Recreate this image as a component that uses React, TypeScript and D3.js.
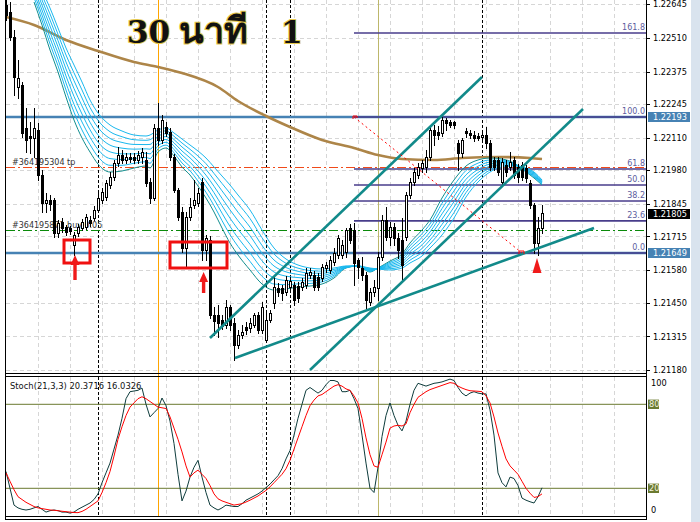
import React from "react";
import * as d3 from "d3";

// ---------- candle data (bar index 0..134) ----------
const opens = [
1.22641,1.22613,1.22513,1.22313,1.22321,1.22149,1.22117,1.22109,1.22141,1.21961,
1.21849,1.21861,1.21861,1.21729,1.21773,1.21753,1.21749,1.21681,1.21729,1.21749,
1.21753,1.21781,1.21789,1.21821,1.21861,1.21873,1.21921,1.21953,1.22009,1.22041,
1.22021,1.22033,1.22033,1.22021,1.22033,1.22021,1.21933,1.21869,1.22149,1.22101,
1.22153,1.22133,1.22033,1.21901,1.21813,1.21669,1.21793,1.21841,1.21849,1.21933,
1.21661,1.21701,1.21401,1.21401,1.21381,1.21361,1.21433,1.21369,1.21281,1.21321,
1.21353,1.21349,1.21361,1.21401,1.21341,1.21301,1.21381,1.21449,1.21509,1.21509,
1.21493,1.21513,1.21521,1.21517,1.21513,1.21521,1.21561,1.21561,1.21553,1.21549,
1.21589,1.21581,1.21613,1.21641,1.21641,1.21653,1.21749,1.21741,1.21621,1.21589,
1.21561,1.21453,1.21493,1.21509,1.21633,1.21781,1.21713,1.21753,1.21709,1.21701,
1.21713,1.21881,1.21933,1.21961,1.21989,1.21993,1.22033,1.22141,1.22133,1.22129,
1.22181,1.22173,1.22173,1.22089,1.22049,1.22137,1.22129,1.22121,1.22117,1.22113,
1.22121,1.22089,1.22021,1.22021,1.21933,1.22001,1.21993,1.22021,1.21993,1.22001,
1.21989,1.21929,1.21841,1.21689,1.21749];
const highs = [
1.22665,1.22653,1.22541,1.22421,1.22333,1.22229,1.22173,1.22229,1.22169,1.21981,
1.21889,1.21881,1.21869,1.21781,1.21789,1.21761,1.21757,1.21733,1.21765,1.21785,
1.21805,1.21797,1.21837,1.21901,1.21909,1.21941,1.21973,1.22021,1.22073,1.22061,
1.22049,1.22049,1.22049,1.22057,1.22069,1.22053,1.21949,1.22165,1.22249,1.22201,
1.22173,1.22149,1.22045,1.21909,1.21833,1.21813,1.21869,1.21941,1.21909,1.21949,
1.21721,1.21717,1.21433,1.21441,1.21401,1.21461,1.21441,1.21389,1.21341,1.21361,
1.21373,1.21389,1.21409,1.21413,1.21453,1.21413,1.21421,1.21561,1.21529,1.21521,
1.21557,1.21553,1.21533,1.21533,1.21549,1.21589,1.21589,1.21577,1.21569,1.21605,
1.21613,1.21637,1.21669,1.21721,1.21701,1.21749,1.21765,1.21769,1.21629,1.21633,
1.21573,1.21509,1.21541,1.21653,1.21801,1.21833,1.21773,1.21769,1.21729,1.21789,
1.21893,1.21949,1.21989,1.22009,1.22021,1.22061,1.22153,1.22161,1.22157,1.22193,
1.22189,1.22181,1.22177,1.22101,1.22109,1.22149,1.22141,1.22137,1.22129,1.22133,
1.22153,1.22101,1.22033,1.22033,1.22029,1.22021,1.22053,1.22033,1.22005,1.22013,
1.22001,1.21941,1.21849,1.21793,1.21841];
const lows = [
1.22581,1.22501,1.22281,1.22269,1.22113,1.22053,1.22049,1.22033,1.21941,1.21813,
1.21813,1.21821,1.21713,1.21713,1.21733,1.21721,1.21725,1.21641,1.21717,1.21741,
1.21745,1.21757,1.21781,1.21813,1.21849,1.21861,1.21909,1.21941,1.21997,1.22009,
1.22009,1.22013,1.22009,1.22009,1.22009,1.21917,1.21849,1.21861,1.22081,1.22089,
1.22117,1.22021,1.21893,1.21781,1.21653,1.21593,1.21781,1.21829,1.21837,1.21621,
1.21621,1.21389,1.21321,1.21313,1.21345,1.21349,1.21341,1.21221,1.21269,1.21309,
1.21325,1.21333,1.21353,1.21329,1.21329,1.21293,1.21373,1.21429,1.21477,1.21461,
1.21481,1.21501,1.21441,1.21453,1.21501,1.21509,1.21549,1.21501,1.21501,1.21537,
1.21573,1.21569,1.21601,1.21629,1.21629,1.21633,1.21689,1.21521,1.21549,1.21541,
1.21429,1.21441,1.21477,1.21461,1.21621,1.21701,1.21681,1.21681,1.21629,1.21533,
1.21701,1.21869,1.21921,1.21949,1.21973,1.21973,1.22021,1.22081,1.22105,1.22117,
1.22141,1.22153,1.22149,1.21981,1.22033,1.22113,1.22109,1.22097,1.22101,1.22105,
1.22069,1.21981,1.21981,1.21961,1.21921,1.21957,1.21981,1.21949,1.21933,1.21941,
1.21933,1.21829,1.21649,1.21641,1.21729];
const closes = [
1.22601,1.22513,1.22353,1.22349,1.22129,1.22101,1.22109,1.22149,1.21961,1.21849,
1.21861,1.21845,1.21729,1.21769,1.21749,1.21733,1.21737,1.21721,1.21753,1.21773,
1.21793,1.21769,1.21821,1.21869,1.21893,1.21929,1.21953,1.22009,1.22041,1.22021,
1.22033,1.22025,1.22021,1.22041,1.22053,1.21929,1.21869,1.22149,1.22101,1.22181,
1.22129,1.22033,1.21901,1.21793,1.21669,1.21793,1.21833,1.21861,1.21889,1.21661,
1.21709,1.21401,1.21377,1.21369,1.21357,1.21433,1.21361,1.21281,1.21321,1.21333,
1.21341,1.21369,1.21401,1.21341,1.21433,1.21381,1.21409,1.21513,1.21493,1.21489,
1.21541,1.21537,1.21461,1.21469,1.21533,1.21569,1.21573,1.21513,1.21513,1.21593,
1.21601,1.21621,1.21649,1.21709,1.21681,1.21741,1.21701,1.21609,1.21593,1.21561,
1.21461,1.21493,1.21513,1.21633,1.21781,1.21713,1.21753,1.21709,1.21661,1.21601,
1.21881,1.21933,1.21973,1.21993,1.22009,1.22033,1.22141,1.22121,1.22121,1.22181,
1.22169,1.22161,1.22161,1.22049,1.22101,1.22129,1.22121,1.22109,1.22109,1.22121,
1.22089,1.21993,1.21993,1.21973,1.22013,1.21973,1.22013,1.21961,1.21953,1.21953,
1.21949,1.21841,1.21689,1.21749,1.21809];

// ---------- stochastic (21,3,3) ----------
const stochK = [
32,20,8,6,5,4.5,5,6,7,5,3,4,4.5,4,3,3,2.3,3,5,6.5,
8,9.5,12,16,24,31,38,48,58,70,84,89,89.5,90,91.6,80,71,74,77,84.5,
79,68,52,30,11,18,28,35,40,28,17,8,6,4.5,6,8,7.5,7,7,9,
11.5,13,14.5,16,18,20.5,23,26,29,34,41,47,58,70,80,90,92,90,88,90,
94,97,97,96,89,89,90,84,77,58,38,20,17,35,57,72,81,72,65,61,
68,80,90,95,94,93,94,95,95.4,96,97,98,97,92,88,86,88,89,88,87.5,
87.4,76,58,31,24,21,28,27,22,13,11.5,10.4,9.5,14,20.3716];
const stochD = [
31,25,19,14,12,10,8.5,7,6,5.5,5,4.5,4.3,4,3.6,3.3,3,2.7,2.6,3.5,
5,7,9,11,17,24,32,43,55,64,72,78,81,84,85.4,84,82,80,78,77.5,
77,71,63,55,46,36,28,31,33,30,27,22,16,12.5,11,10,9,8,8.5,9,
10.2,11.5,13,14.5,16.5,18.5,21,24,27,30,34,40,48,56,64,72,79,83,86,87,
89,91,93,94,93,91,90,86,81,70,56,44,36,35,44,53,63,64.5,65,64.5,
66,74,80,85,87,89,90.5,91.5,92.5,93.5,94.5,95.5,95,93,91.6,90.5,89.7,89.5,89.3,89,
86,81,71,59.5,50,41,36,33,30,25,20,16.5,13.5,14,16.0326];

// ---------- EMA ribbon edges (fast / slow), sampled at bar indices ----------
const ribbonIdx = [7,9,11,13,15,17,19,21,23,26,29,32,35,36,38,40,42,44,46,48,50,52,54,56,58,61,64,67,70,73,76,79,82,85,88,91,93,96,99,101,104,106,109,112,115,118,121,124,127,130,132,134];
const ribbonFast = [1.22653,1.22561,1.22461,1.22373,1.22273,1.22181,1.22109,1.22053,1.22005,1.21973,1.21977,1.21989,1.21997,1.21989,1.22053,1.22069,1.22037,1.21993,1.21961,1.21917,1.21869,1.21813,1.21749,1.21689,1.21641,1.21581,1.21525,1.21501,1.21505,1.21513,1.21517,1.21525,1.21549,1.21589,1.21597,1.21573,1.21589,1.21617,1.21645,1.21689,1.21741,1.21781,1.21869,1.21941,1.21997,1.22021,1.22029,1.22025,1.22009,1.21973,1.21949,1.21921];
const ribbonSlow = [1.22781,1.22701,1.22629,1.22549,1.22469,1.22401,1.22333,1.22261,1.22209,1.22161,1.22137,1.22121,1.22117,1.22121,1.22141,1.22149,1.22129,1.22105,1.22081,1.22057,1.22029,1.21993,1.21957,1.21921,1.21881,1.21821,1.21741,1.21669,1.21625,1.21601,1.21589,1.21585,1.21589,1.21597,1.21597,1.21589,1.21585,1.21581,1.21589,1.21609,1.21637,1.21669,1.21721,1.21789,1.21873,1.21933,1.21973,1.21993,1.21997,1.21989,1.21973,1.21941];
const ribbonCount = 8;

// ---------- slow moving average ----------
const maIdx = [0,7,15,23,32,38,44,53,58,65,71,79,87,93,99,107,114,123,131,134];
const maVals = [1.22593,1.22561,1.22501,1.22457,1.22413,1.22393,1.22369,1.22313,1.22257,1.22197,1.22153,1.22101,1.22069,1.22041,1.22025,1.22021,1.22029,1.22033,1.22029,1.22025];

// ---------- axis / levels ----------
const priceTicks = [1.22645,1.2251,1.22375,1.22245,1.2211,1.2198,1.21845,1.21715,1.2158,1.2145,1.21315,1.2118];
const priceTickLabels = ["1.22645","1.22510","1.22375","1.22245","1.22110","1.21980","1.21845","1.21715","1.21580","1.21450","1.21315","1.21180"];
const blueLevels = [1.22193, 1.21649];
const markerPrices = [1.22193, 1.21805, 1.21649];
const markerLabels = ["1.22193", "1.21805", "1.21649"];
const fibLevels = [0, 23.6, 38.2, 50, 61.8, 100, 161.8];
const fibLabels = ["0.0", "23.6", "38.2", "50.0", "61.8", "100.0", "161.8"];
const fibAnchorBars = [87, 129];
const fibAnchorPrices = [1.22193, 1.21649];
const tpLevel = 1.21993;
const tpLabel = "#364195304 tp";
const buyLevel = 1.21741;
const buyLabel = "#364195871 buy 0.05";
const dashedBars = [23, 65, 71, 119];
const orangeBar = 38;
const khakiBar = 93;
const trendFrom = [[51, 1.21309], [76, 1.21181], [57.25, 1.21229]];
const trendTo = [[119, 1.22353], [144.25, 1.22225], [147, 1.21749]];
const boxFrom = [[14.5, 1.21701], [41, 1.21693]];
const boxTo = [[21, 1.21609], [55.25, 1.21589]];
const arrowBars = [17.25, 49.4];
const arrowTips = [1.21641, 1.21573];
const arrowTails = [1.21541, 1.21489];
const triBar = 132.75;
const triTop = 1.21629;
const triBottom = 1.21569;
const stochLevels = [20, 80];
const stochTicks = [100, 80, 20, 0];
const stochTitle = "Stoch(21,3,3) 20.3716 16.0326";
const titleNum30 = "30";
const titleThai = "นาที";
const titleNum = "1";

const FONT = "'DejaVu Sans', Verdana, sans-serif";

export default function App() {
  const L = 6, R = 646;
  const x = d3.scaleLinear().domain([0, 160]).range([L, R]);
  const y = d3.scaleLinear().domain([1.21169, 1.22661]).range([373, 0]);
  const ys = d3.scaleLinear().domain([0, 100]).range([516.3, 376.3]);
  const px = (v: number) => Math.round(v) + 0.5;

  const gridBars = d3.range(8, 160, 8);
  const line = d3.line<[number, number]>().curve(d3.curveMonotoneX);
  const lineLin = d3.line<[number, number]>();

  const fibRange = fibAnchorPrices[0] - fibAnchorPrices[1];

  const ribbonLines = d3.range(ribbonCount).map((k) => {
    const t = k / (ribbonCount - 1);
    const pts = ribbonIdx.map((bi, j) => [x(bi), y(ribbonFast[j] + t * (ribbonSlow[j] - ribbonFast[j]))] as [number, number]);
    return line(pts) as string;
  });

  const maPath = line(maIdx.map((bi, j) => [x(bi), y(maVals[j])] as [number, number])) as string;
  const kPath = lineLin(stochK.map((v, i) => [x(i), ys(v)] as [number, number])) as string;
  const dPath = lineLin(stochD.map((v, i) => [x(i), ys(v)] as [number, number])) as string;

  return (
    <svg width={700} height={522} style={{ position: "fixed", left: 0, top: 0, display: "block", background: "#fff" }}>
      <defs>
        <clipPath id="mainClip"><rect x={L} y={0} width={R - L} height={373} /></clipPath>
        <clipPath id="stochClip"><rect x={L} y={376.5} width={R - L} height={140} /></clipPath>
      </defs>
      <rect x={0} y={0} width={700} height={522} fill="#fff" />
      <rect x={691} y={0} width={9} height={522} fill="#d9e3ee" />

      {/* grid */}
      <g stroke="#d6d6d6" strokeDasharray="4,3" strokeWidth={1}>
        {gridBars.map((b) => (
          <g key={"gv" + b}>
            <line x1={px(x(b))} x2={px(x(b))} y1={0} y2={373} />
            <line x1={px(x(b))} x2={px(x(b))} y1={377} y2={516} />
          </g>
        ))}
        {priceTicks.map((p) => (
          <line key={"gh" + p} x1={L} x2={R} y1={px(y(p))} y2={px(y(p))} />
        ))}
      </g>

      {/* vertical event lines */}
      <g>
        {dashedBars.map((b) => (
          <g key={"vd" + b} stroke="#000" strokeDasharray="3,2">
            <line x1={px(x(b))} x2={px(x(b))} y1={0} y2={373} />
            <line x1={px(x(b))} x2={px(x(b))} y1={377} y2={516} />
          </g>
        ))}
        <line x1={px(x(orangeBar))} x2={px(x(orangeBar))} y1={0} y2={516} stroke="#ffa500" />
        <line x1={px(x(khakiBar))} x2={px(x(khakiBar))} y1={0} y2={516} stroke="#bdb76b" />
      </g>

      <g clipPath="url(#mainClip)">
        {/* TP and buy lines with labels */}
        <line x1={L} x2={R} y1={px(y(tpLevel))} y2={px(y(tpLevel))} stroke="#f04a1a" strokeDasharray="9,3,2,3" />
        <line x1={L} x2={R} y1={px(y(buyLevel))} y2={px(y(buyLevel))} stroke="#0a8a0a" strokeDasharray="9,3,2,3" />
        <text x={12} y={y(tpLevel) - 2} fontFamily={FONT} fontSize={8} fill="#333">{tpLabel}</text>
        <text x={12} y={y(buyLevel) - 2} fontFamily={FONT} fontSize={8} fill="#333">{buyLabel}</text>

        {/* horizontal blue levels */}
        {blueLevels.map((p) => (
          <line key={"bl" + p} x1={L} x2={R} y1={y(p)} y2={y(p)} stroke="#4682b4" strokeWidth={2.6} />
        ))}

        {/* fibonacci */}
        {fibLevels.map((lv, k) => {
          const yy = y(fibAnchorPrices[1] + (lv / 100) * fibRange);
          return (
            <g key={"fib" + lv}>
              <line x1={x(fibAnchorBars[0])} x2={R} y1={yy} y2={yy} stroke="#483d8b" strokeWidth={1.6} />
              <text x={R - 1} y={yy - 3} textAnchor="end" fontFamily={FONT} fontSize={8} fill="#5d5d9e">{fibLabels[k]}</text>
            </g>
          );
        })}

        {/* moving average */}
        <path d={maPath} fill="none" stroke="#ad8548" strokeWidth={2.6} />

        {/* EMA ribbon */}
        {ribbonLines.map((d, k) => (
          <path key={"rb" + k} d={d} fill="none" stroke={k === 0 ? "#128e8e" : "#1ab8ee"} strokeWidth={1} />
        ))}

        {/* candles */}
        {opens.map((o, i) => {
          const c = closes[i];
          const cx = Math.round(x(i));
          const bull = c >= o;
          const yt = Math.round(y(Math.max(o, c)));
          const yb = Math.round(y(Math.min(o, c)));
          const yh = Math.round(y(highs[i]));
          const yl = Math.round(y(lows[i]));
          return (
            <g key={"c" + i}>
              <line x1={cx + 0.5} x2={cx + 0.5} y1={yh} y2={yl + 1} stroke="#000" />
              {yb - yt < 1 ? (
                <line x1={cx - 1} x2={cx + 2} y1={yt + 0.5} y2={yt + 0.5} stroke="#000" />
              ) : (
                <rect x={cx - 0.5} y={yt + 0.5} width={2} height={yb - yt} fill={bull ? "#fff" : "#000"} stroke="#000" />
              )}
            </g>
          );
        })}

        {/* trend lines */}
        {trendFrom.map((f, k) => (
          <line key={"tl" + k} x1={x(f[0])} y1={y(f[1])} x2={x(trendTo[k][0])} y2={y(trendTo[k][1])} stroke="#128a8a" strokeWidth={2.6} />
        ))}

        {/* fib anchor diagonal */}
        <line x1={x(fibAnchorBars[0])} y1={y(fibAnchorPrices[0])} x2={x(fibAnchorBars[1])} y2={y(fibAnchorPrices[1])} stroke="#ff0000" strokeDasharray="2,3" />
        <path d={`M${x(fibAnchorBars[0]) - 1},${y(fibAnchorPrices[0]) + 2} v-3 h4 v2`} fill="none" stroke="#ff0000" />
        <path d={`M${x(fibAnchorBars[1]) - 3},${y(fibAnchorPrices[1]) + 1} v-3 h5 v3`} fill="none" stroke="#ff0000" />

        {/* boxes */}
        {boxFrom.map((f, k) => (
          <rect key={"bx" + k} x={x(f[0])} y={y(f[1])} width={x(boxTo[k][0]) - x(f[0])} height={y(boxTo[k][1]) - y(f[1])} fill="none" stroke="#f01010" strokeWidth={3} />
        ))}

        {/* arrows */}
        {arrowBars.map((b, k) => {
          const cx = x(b);
          const yt = y(arrowTips[k]);
          const yb = y(arrowTails[k]);
          return (
            <path key={"ar" + k} d={`M${cx},${yt} L${cx + 4.5},${yt + 10} L${cx + 1.7},${yt + 10} L${cx + 1.7},${yb} L${cx - 1.7},${yb} L${cx - 1.7},${yt + 10} L${cx - 4.5},${yt + 10} Z`} fill="#f01a1a" />
          );
        })}
        <path d={`M${x(triBar)},${y(triTop)} L${x(triBar) + 4.5},${y(triBottom)} L${x(triBar) - 4.5},${y(triBottom)} Z`} fill="#f01a1a" />
      </g>

      {/* title */}
      <g fontFamily="'DejaVu Serif', 'Noto Sans', serif" fontWeight="bold" fontSize={31} fill="#111" stroke="#e6c84c" strokeWidth={2} style={{ paintOrder: "stroke" }}>
        <text x={127} y={43}>{titleNum30}<tspan fontSize={36} dx={9}>{titleThai}</tspan></text>
        <text x={281} y={43}>{titleNum}</text>
      </g>

      {/* stochastic */}
      <g clipPath="url(#stochClip)">
        {stochLevels.map((v) => (
          <line key={"sl" + v} x1={L} x2={R} y1={ys(v)} y2={ys(v)} stroke="#6b7a30" />
        ))}
        <path d={kPath} fill="none" stroke="#0e3c3c" strokeWidth={1} />
        <path d={dPath} fill="none" stroke="#ff0000" strokeWidth={1} />
      </g>
      <text x={10} y={389} fontFamily={FONT} fontSize={8.4} fill="#111">{stochTitle}</text>

      {/* frames */}
      <g stroke="#000" strokeWidth={1} fill="none">
        <line x1={5.5} x2={5.5} y1={0} y2={520} />
        <line x1={R + 0.5} x2={R + 0.5} y1={0} y2={520} />
        <line x1={5} x2={R + 1} y1={373.5} y2={373.5} />
        <line x1={5} x2={R + 1} y1={376.5} y2={376.5} />
        <line x1={5} x2={R + 1} y1={516.5} y2={516.5} />
        <line x1={5} x2={R + 1} y1={519.5} y2={519.5} />
      </g>

      {/* price axis */}
      <g fontFamily={FONT} fontSize={8.2} fill="#000">
        {priceTicks.map((p, k) => (
          <g key={"pt" + p}>
            <line x1={R} x2={R + 4} y1={px(y(p))} y2={px(y(p))} stroke="#000" />
            <text x={653} y={y(p)} dominantBaseline="central">{priceTickLabels[k]}</text>
          </g>
        ))}
        {markerPrices.map((p, k) => (
          <g key={"mk" + p}>
            <rect x={648} y={y(p) - 5} width={42} height={10} fill={k === 1 ? "#000" : "#4682b4"} />
            <text x={653} y={y(p)} dominantBaseline="central" fill="#fff">{markerLabels[k]}</text>
          </g>
        ))}
        {stochTicks.map((v) => {
          const boxed = v === 20 || v === 80;
          const yy = v === 100 ? ys(v) + 6.5 : v === 0 ? ys(v) - 6 : ys(v);
          return (
            <g key={"st" + v}>
              {boxed && <rect x={648} y={yy - 4.7} width={11} height={9.4} fill="#6b7a30" />}
              <text x={boxed ? 649 : 651} y={yy} dominantBaseline="central" fill={boxed ? "#f4f4e0" : "#000"}>{String(v)}</text>
            </g>
          );
        })}
      </g>
    </svg>
  );
}
